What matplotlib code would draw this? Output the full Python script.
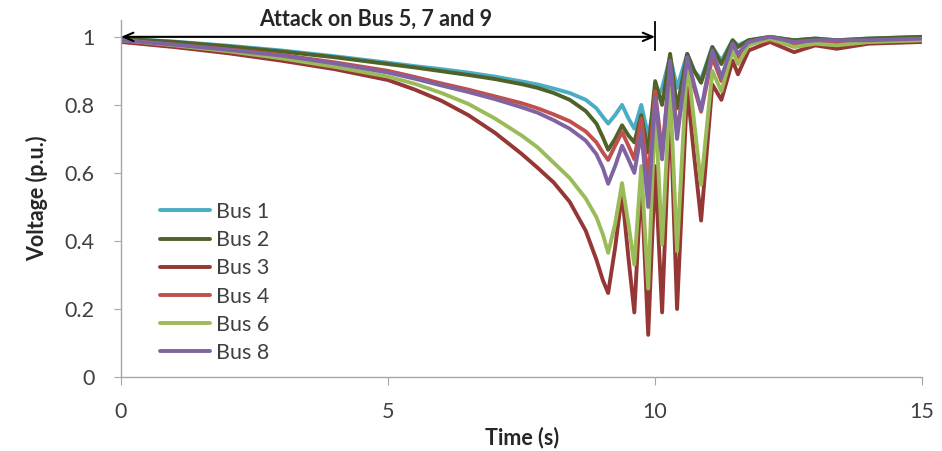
import matplotlib
matplotlib.use('Agg')
from matplotlib import pyplot as plt

plt.rcParams['font.family'] = ['Lato', 'DejaVu Sans']

# time points (s)
t = [0, 1, 2, 3, 4, 5, 5.5, 6, 6.5, 7, 7.5, 7.8, 8.1, 8.4, 8.7, 8.9, 9.02, 9.12, 9.25, 9.38,
     9.5, 9.61, 9.74, 9.87, 10.0, 10.13, 10.28, 10.41, 10.6, 10.73, 10.86, 11.07, 11.24, 11.45,
     11.55, 11.75, 12.15, 12.6, 13.0, 13.4, 14.0, 15.0]

bus1 = [0.995, 0.986, 0.974, 0.96, 0.943, 0.924, 0.914, 0.905, 0.895, 0.883, 0.869, 0.86, 0.848,
        0.835, 0.815, 0.79, 0.765, 0.745, 0.77, 0.80, 0.76, 0.73, 0.80, 0.71, 0.81, 0.85, 0.94,
        0.85, 0.95, 0.90, 0.875, 0.97, 0.93, 0.99, 0.975, 0.99, 1.0, 0.99, 0.995, 0.99, 0.995, 1.0]
bus2 = [0.995, 0.985, 0.972, 0.957, 0.94, 0.92, 0.91, 0.899, 0.888, 0.876, 0.861, 0.85, 0.835,
        0.815, 0.782, 0.745, 0.705, 0.668, 0.70, 0.74, 0.71, 0.69, 0.77, 0.66, 0.87, 0.80, 0.95,
        0.79, 0.95, 0.90, 0.865, 0.97, 0.92, 0.99, 0.97, 0.99, 1.0, 0.99, 0.995, 0.99, 0.995, 1.0]
bus3 = [0.985, 0.97, 0.952, 0.93, 0.905, 0.873, 0.845, 0.812, 0.77, 0.718, 0.656, 0.615, 0.572,
        0.515, 0.43, 0.345, 0.285, 0.247, 0.38, 0.54, 0.35, 0.19, 0.58, 0.124, 0.62, 0.19, 0.80,
        0.20, 0.85, 0.65, 0.46, 0.86, 0.815, 0.93, 0.89, 0.96, 0.985, 0.955, 0.975, 0.965, 0.98, 0.985]
bus4 = [0.99, 0.977, 0.963, 0.947, 0.925, 0.90, 0.882, 0.863, 0.845, 0.825, 0.805, 0.79, 0.772,
        0.752, 0.722, 0.69, 0.66, 0.638, 0.68, 0.72, 0.68, 0.64, 0.76, 0.58, 0.84, 0.66, 0.91,
        0.72, 0.92, 0.85, 0.78, 0.94, 0.87, 0.97, 0.94, 0.98, 0.99, 0.975, 0.985, 0.98, 0.985, 0.99]
bus6 = [0.99, 0.975, 0.958, 0.937, 0.912, 0.883, 0.862, 0.835, 0.803, 0.76, 0.71, 0.675, 0.63,
        0.585, 0.525, 0.47, 0.42, 0.365, 0.45, 0.57, 0.45, 0.33, 0.62, 0.26, 0.80, 0.39, 0.85,
        0.37, 0.93, 0.75, 0.565, 0.90, 0.84, 0.96, 0.92, 0.975, 0.995, 0.97, 0.98, 0.975, 0.985, 0.99]
bus8 = [0.99, 0.977, 0.962, 0.945, 0.922, 0.895, 0.877, 0.857, 0.838, 0.817, 0.793, 0.777, 0.755,
        0.73, 0.695, 0.655, 0.615, 0.568, 0.62, 0.68, 0.64, 0.60, 0.72, 0.50, 0.82, 0.64, 0.93,
        0.70, 0.94, 0.86, 0.785, 0.96, 0.88, 0.98, 0.95, 0.985, 1.0, 0.985, 0.99, 0.99, 0.99, 0.995]

names = ['Bus 1', 'Bus 2', 'Bus 3', 'Bus 4', 'Bus 6', 'Bus 8']
series = [bus1, bus2, bus3, bus4, bus6, bus8]
colors = ['#4bacc6', '#4f6228', '#953735', '#c0504d', '#9bbb59', '#8064a2']

fig = plt.figure(figsize=(9.42, 4.51), dpi=100)
ax = fig.add_axes([0.1285, 0.164, 0.8505, 0.792])

for name, v, c in zip(names, series, colors):
    ax.plot(t, v, color=c, lw=2.8, label=name, solid_capstyle='round', solid_joinstyle='round')

ax.set_xlim(0, 15)
ax.set_ylim(0, 1.05)
ax.set_xticks([0, 5, 10, 15])
ax.set_yticks([0, 0.2, 0.4, 0.6, 0.8, 1.0])
ax.set_yticklabels(['0', '0.2', '0.4', '0.6', '0.8', '1'])

for s in ['top', 'right']:
    ax.spines[s].set_visible(False)
for s in ['left', 'bottom']:
    ax.spines[s].set_color('#a6a6a6')
    ax.spines[s].set_linewidth(1.0)

ax.tick_params(axis='x', direction='out', length=6, color='#a6a6a6', labelsize=15.5,
               labelcolor='#404040', pad=12)
ax.tick_params(axis='y', direction='out', length=5, color='#a6a6a6', labelsize=15.5,
               labelcolor='#404040', pad=14)

ax.set_xlabel('Time (s)', fontsize=15.5, fontweight='bold', color='#262626', labelpad=3)
ax.set_ylabel('Voltage (p.u.)', fontsize=15.5, fontweight='bold', color='#262626', labelpad=12)

# attack window arrow
ax.annotate('', xy=(0, 1.0), xytext=(10, 1.0),
            arrowprops=dict(arrowstyle='<->, head_length=0.7, head_width=0.3', color='black',
                            lw=1.5, shrinkA=0, shrinkB=0), annotation_clip=False)
ax.plot([10, 10], [0.96, 1.045], color='black', lw=1.3, clip_on=False)
ax.text(4.76, 1.053, 'Attack on Bus 5, 7 and 9', ha='center', va='center', fontsize=15.5,
        fontweight='bold', color='#262626', clip_on=False)

leg = ax.legend(loc='upper left', bbox_to_anchor=(0.049, 0.49), frameon=False, fontsize=15.5,
                handlelength=2.33, handletextpad=0.25, labelspacing=0.38, borderaxespad=0,
                borderpad=0)
for txt in leg.get_texts():
    txt.set_color('#404040')

plt.savefig('out.png', dpi=100)
